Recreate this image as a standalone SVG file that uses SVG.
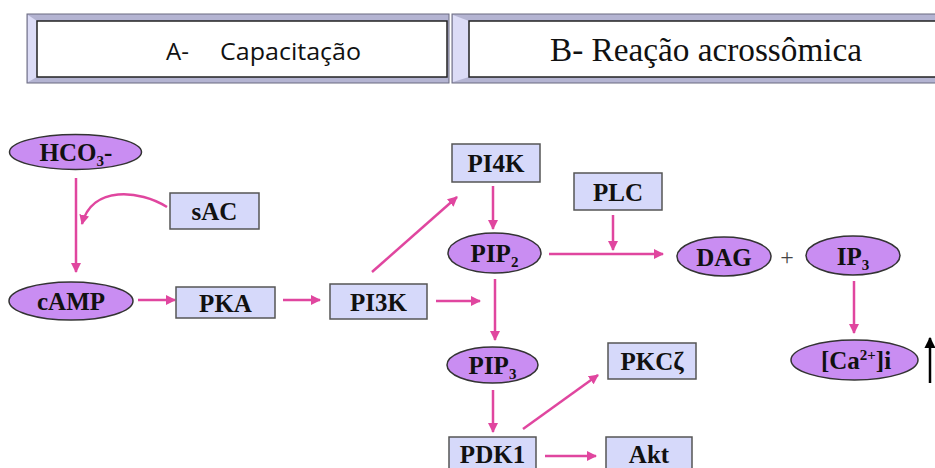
<svg xmlns="http://www.w3.org/2000/svg" width="935" height="468" viewBox="0 0 935 468">
<style>
.ell{fill:#c98df2;stroke:#333;stroke-width:1.5}
.box{fill:#d6d9fa;stroke:#555;stroke-width:1.5}
.lbl{font-family:"Liberation Serif","Times New Roman",serif;font-weight:bold;font-size:25px;fill:#111;text-anchor:middle}
.sub{font-size:15px}
.con{stroke:#e0469f;stroke-width:2.5;fill:none}
.frame{fill:#b4b4d2;stroke:#6a6a80;stroke-width:1}
.bevel{fill:#dcdcf6}
.inner{fill:#fff;stroke:#222;stroke-width:1.5}
.hda{font-family:"Open Sans","Noto Sans",sans-serif;font-size:24px;fill:#111}
</style>
<defs>
<marker id="ah" viewBox="0 0 10 10" refX="9" refY="5" markerWidth="4" markerHeight="4" orient="auto" markerUnits="strokeWidth">
<path d="M0,0 L10,5 L0,10 z" fill="#e0469f"/>
</marker>
<marker id="ahk" viewBox="0 0 10 10" refX="9" refY="5" markerWidth="4.5" markerHeight="4.5" orient="auto" markerUnits="strokeWidth">
<path d="M0,0 L10,5 L0,10 z" fill="#000"/>
</marker>
</defs>
<rect width="935" height="468" fill="#fff"/>

<g id="header-a">
<rect class="frame" x="27" y="14" width="422" height="69"/>
<polygon class="bevel" points="28,15 37,21 37,77 28,82"/>
<rect class="inner" x="37" y="21" width="410" height="56"/>
<text class="hda" y="60"><tspan x="166">A-</tspan><tspan x="220" textLength="141" lengthAdjust="spacingAndGlyphs">Capacitação</tspan></text>
</g>
<g id="header-b">
<rect class="frame" x="452" y="14" width="490" height="69"/>
<polygon class="bevel" points="453,15 469,21 469,77 453,82"/>
<rect class="inner" x="469" y="21" width="480" height="56"/>
<text x="550" y="61" font-family="'Liberation Serif','Times New Roman',serif" font-size="33" fill="#111" textLength="312" lengthAdjust="spacingAndGlyphs">B- Reação acrossômica</text>
</g>

<g id="connectors">
<line class="con" x1="76" y1="178" x2="76" y2="272" marker-end="url(#ah)"/>
<path class="con" d="M167,207 C140,190 92,185 82,224" marker-end="url(#ah)"/>
<line class="con" x1="138" y1="300" x2="175" y2="300" marker-end="url(#ah)"/>
<line class="con" x1="283" y1="300" x2="320" y2="300" marker-end="url(#ah)"/>
<line class="con" x1="372" y1="272" x2="457" y2="197" marker-end="url(#ah)"/>
<line class="con" x1="436" y1="301" x2="480" y2="301" marker-end="url(#ah)"/>
<line class="con" x1="493" y1="186" x2="493" y2="229" marker-end="url(#ah)"/>
<line class="con" x1="613" y1="215" x2="613" y2="250" marker-end="url(#ah)"/>
<line class="con" x1="549" y1="254" x2="663" y2="254" marker-end="url(#ah)"/>
<line class="con" x1="854" y1="281" x2="854" y2="333" marker-end="url(#ah)"/>
<line class="con" x1="495" y1="279" x2="495" y2="340" marker-end="url(#ah)"/>
<line class="con" x1="493" y1="390" x2="493" y2="432" marker-end="url(#ah)"/>
<line class="con" x1="545" y1="456" x2="596" y2="456" marker-end="url(#ah)"/>
<line class="con" x1="523" y1="429" x2="598" y2="375" marker-end="url(#ah)"/>
<line x1="930" y1="383" x2="930" y2="338" stroke="#000" stroke-width="2.5" marker-end="url(#ahk)"/>
</g>

<g id="hco3"><ellipse class="ell" cx="75.5" cy="152" rx="66" ry="17.5"/><text class="lbl" x="76" y="161">HCO<tspan class="sub" dy="5">3</tspan><tspan dy="-5">-</tspan></text></g>
<g id="sac"><rect class="box" x="170" y="193" width="89" height="36"/><text class="lbl" x="214.5" y="220">sAC</text></g>
<g id="camp"><ellipse class="ell" cx="71" cy="301" rx="62" ry="19"/><text class="lbl" x="71" y="310">cAMP</text></g>
<g id="pka"><rect class="box" x="176" y="287" width="99" height="31"/><text class="lbl" x="225.5" y="312">PKA</text></g>
<g id="pi3k"><rect class="box" x="330" y="284" width="97" height="35"/><text class="lbl" x="378.5" y="311">PI3K</text></g>
<g id="pi4k"><rect class="box" x="452" y="144" width="88" height="38"/><text class="lbl" x="496" y="172">PI4K</text></g>
<g id="plc"><rect class="box" x="574" y="173" width="88" height="37"/><text class="lbl" x="618" y="201">PLC</text></g>
<g id="pip2"><ellipse class="ell" cx="494.5" cy="253" rx="46.5" ry="20"/><text class="lbl" x="494.5" y="262">PIP<tspan class="sub" dy="5">2</tspan></text></g>
<g id="dag"><ellipse class="ell" cx="724" cy="256.5" rx="47" ry="19.5"/><text class="lbl" x="724" y="266">DAG</text></g>
<g id="plus"><text x="787" y="265" font-family="'Liberation Serif',serif" font-size="24" fill="#444" text-anchor="middle">+</text></g>
<g id="ip3"><ellipse class="ell" cx="853" cy="255.5" rx="47" ry="19.5"/><text class="lbl" x="853" y="265">IP<tspan class="sub" dy="5">3</tspan></text></g>
<g id="ca"><ellipse class="ell" cx="854.5" cy="360" rx="63.5" ry="20"/><text class="lbl" x="856" y="369">[Ca<tspan class="sub" dy="-9">2+</tspan><tspan dy="9">]i</tspan></text></g>
<g id="pip3"><ellipse class="ell" cx="492.5" cy="365" rx="45.5" ry="18"/><text class="lbl" x="492.5" y="374">PIP<tspan class="sub" dy="5">3</tspan></text></g>
<g id="pkcz"><rect class="box" x="608" y="343" width="88" height="36"/><text class="lbl" x="652" y="370">PKCζ</text></g>
<g id="pdk1"><rect class="box" x="449" y="437" width="87" height="40"/><text class="lbl" x="492.5" y="463">PDK1</text></g>
<g id="akt"><rect class="box" x="606" y="437" width="86" height="40"/><text class="lbl" x="649" y="463">Akt</text></g>
</svg>
